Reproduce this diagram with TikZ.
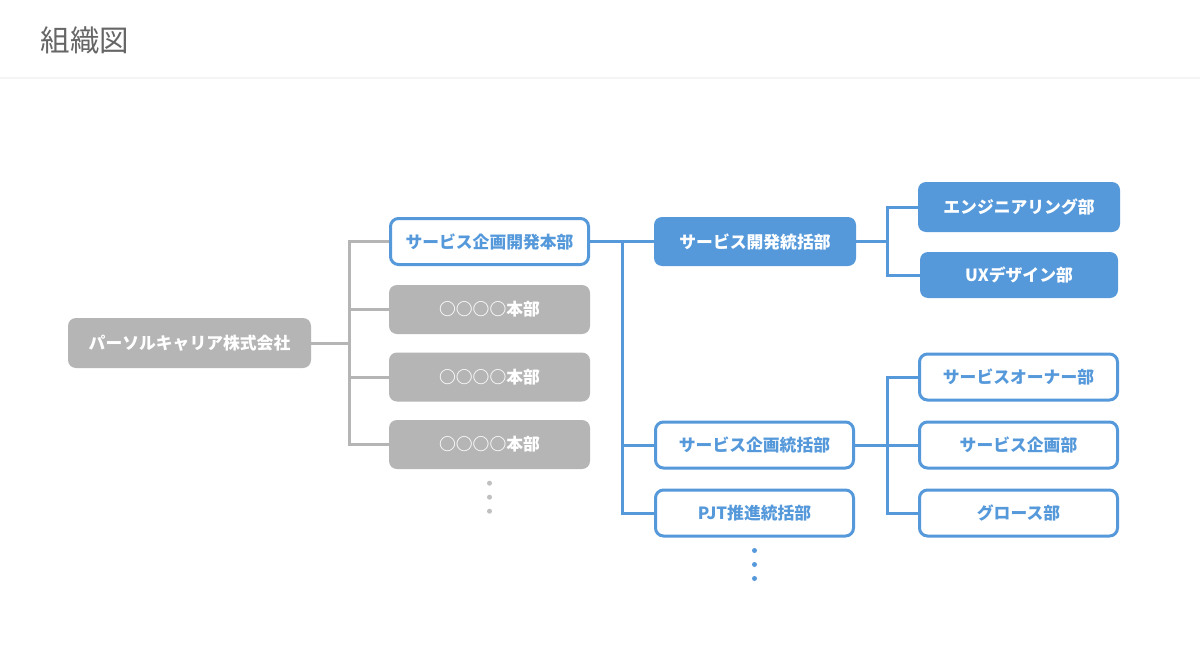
\documentclass[tikz,border=0pt]{standalone}
\usepackage{fontspec}
\setmainfont{Noto Sans CJK JP}
\usepackage{tikz}
\definecolor{orgblue}{RGB}{85,153,219}
\definecolor{orggray}{RGB}{181,181,181}
\definecolor{titlegray}{RGB}{102,102,102}
\begin{document}
\begin{tikzpicture}[x=1pt, y=-1pt,
    box/.style={rounded corners=8pt, minimum width=201pt, minimum height=49pt, inner sep=0pt, font=\fontsize{16.8}{16.8}\selectfont\bfseries},
    graybox/.style={box, fill=orggray, text=white},
    bluebox/.style={box, fill=orgblue, text=white},
    linebox/.style={box, draw=orgblue, line width=3pt, fill=white, text=orgblue, minimum width=198pt, minimum height=46pt},
    grayline/.style={draw=orggray, line width=3pt},
    blueline/.style={draw=orgblue, line width=3pt}]
    \useasboundingbox[fill=white] (0,0) rectangle (1200,672);
    \draw[black!4, line width=2pt] (0,78) -- (1200,78);
    \node[anchor=west, text=titlegray, font=\fontsize{29.5}{29.5}\selectfont] (title) at (37,40) {組織図};
    % left column
    \node[graybox, minimum width=243pt, minimum height=50pt] (corp) at (189.5,343) {パーソルキャリア株式会社};
    \node[linebox] (dev) at (489.5,241.5) {サービス企画開発本部};
    \node[graybox] (hq1) at (489.5,309.5) {○○○○本部};
    \node[graybox] (hq2) at (489.5,377) {○○○○本部};
    \node[graybox] (hq3) at (489.5,444.5) {○○○○本部};
    % middle column
    \node[bluebox, minimum width=202pt] (svcdev) at (755,241.5) {サービス開発統括部};
    \node[linebox] (plan) at (754.5,445) {サービス企画統括部};
    \node[linebox] (pjt) at (754.5,513) {PJT推進統括部};
    % right column
    \node[bluebox, minimum width=202pt, minimum height=50pt] (eng) at (1019,207) {エンジニアリング部};
    \node[bluebox, minimum width=198pt, minimum height=46pt] (ux) at (1019,275) {UXデザイン部};
    \node[linebox] (own) at (1018.5,377) {サービスオーナー部};
    \node[linebox] (spl) at (1018.5,445) {サービス企画部};
    \node[linebox] (grow) at (1018.5,513) {グロース部};
    % buses
    \coordinate (gbus) at (349,0);
    \coordinate (bbus) at (622,0);
    \coordinate (rbus) at (887,0);
    \draw[grayline] (corp.east) -- (corp.east -| gbus);
    \draw[grayline] (dev.west) -- (dev.west -| gbus) -- (hq3.west -| gbus) -- (hq3.west);
    \foreach \n in {hq1,hq2}
        \draw[grayline] (\n.west -| gbus) -- (\n.west);
    \draw[blueline] (dev.east) -- (svcdev.west);
    \draw[blueline] (dev.east -| bbus) -- (pjt.west -| bbus) -- (pjt.west);
    \draw[blueline] (plan.west -| bbus) -- (plan.west);
    \draw[blueline] (svcdev.east) -- (svcdev.east -| rbus);
    \draw[blueline] (eng.west) -- (eng.west -| rbus) -- (ux.west -| rbus) -- (ux.west);
    \draw[blueline] (plan.east) -- (spl.west);
    \draw[blueline] (own.west) -- (own.west -| rbus) -- (grow.west -| rbus) -- (grow.west);
    % more below
    \foreach \dy in {14,28,42}
        \fill[orggray!85] (hq3.south) ++(0,\dy) circle (2.5pt);
    \foreach \dy in {13,27,41}
        \fill[orgblue] (pjt.south) ++(0,\dy) circle (2.5pt);
\end{tikzpicture}
\end{document}
